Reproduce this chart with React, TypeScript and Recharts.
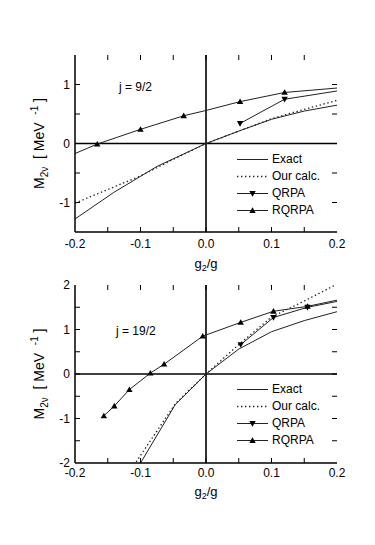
import { LineChart, Line, XAxis, YAxis, ReferenceLine, Legend } from 'recharts';

const FONT = '"Liberation Sans", Arial, Helvetica, sans-serif';

type Pt = { x: number; y: number; m?: boolean };

const xTicks = [-0.2, -0.15, -0.1, -0.05, 0, 0.05, 0.1, 0.15, 0.2];
const yTicksTop = [-1.5, -1, -0.5, 0, 0.5, 1, 1.5];
const yTicksBottom = [-2, -1.5, -1, -0.5, 0, 0.5, 1, 1.5, 2];

const seriesNames = ['Exact', 'Our calc.', 'QRPA', 'RQRPA'];

// j = 9/2
const exact9: Pt[] = [
    { x: -0.2, y: -1.28 }, { x: -0.141, y: -0.83 }, { x: -0.075, y: -0.39 }, { x: 0, y: 0 },
    { x: 0.05, y: 0.21 }, { x: 0.1, y: 0.41 }, { x: 0.15, y: 0.55 }, { x: 0.2, y: 0.65 },
];
const our9: Pt[] = [
    { x: -0.2, y: -1.01 }, { x: -0.15, y: -0.78 }, { x: -0.1, y: -0.55 }, { x: -0.05, y: -0.27 }, { x: 0, y: 0 },
    { x: 0.05, y: 0.21 }, { x: 0.1, y: 0.42 }, { x: 0.15, y: 0.58 }, { x: 0.2, y: 0.73 },
];
const qrpa9: Pt[] = [
    { x: 0.052, y: 0.34, m: true }, { x: 0.12, y: 0.75, m: true }, { x: 0.2, y: 0.89 },
];
const rqrpa9: Pt[] = [
    { x: -0.2, y: -0.17 }, { x: -0.166, y: -0.01, m: true }, { x: -0.1, y: 0.24, m: true },
    { x: -0.034, y: 0.47, m: true }, { x: 0, y: 0.56 }, { x: 0.052, y: 0.71, m: true },
    { x: 0.12, y: 0.865, m: true }, { x: 0.2, y: 0.94 },
];

// j = 19/2
const exact19: Pt[] = [
    { x: -0.104, y: -2.1 }, { x: -0.047, y: -0.69 }, { x: 0, y: 0 },
    { x: 0.05, y: 0.56 }, { x: 0.1, y: 0.95 }, { x: 0.15, y: 1.2 }, { x: 0.2, y: 1.4 },
];
const our19: Pt[] = [
    { x: -0.11, y: -2.05 }, { x: -0.047, y: -0.67 }, { x: 0, y: 0 },
    { x: 0.05, y: 0.66 }, { x: 0.1, y: 1.28 }, { x: 0.15, y: 1.64 }, { x: 0.2, y: 2.02 },
];
const qrpa19: Pt[] = [
    { x: 0.053, y: 0.66, m: true }, { x: 0.103, y: 1.27, m: true }, { x: 0.155, y: 1.5, m: true }, { x: 0.2, y: 1.63 },
];
const rqrpa19: Pt[] = [
    { x: -0.156, y: -0.94, m: true }, { x: -0.14, y: -0.72, m: true }, { x: -0.117, y: -0.35, m: true },
    { x: -0.085, y: 0.02, m: true }, { x: -0.064, y: 0.22, m: true }, { x: -0.005, y: 0.85, m: true },
    { x: 0.053, y: 1.16, m: true }, { x: 0.103, y: 1.41, m: true }, { x: 0.155, y: 1.52, m: true }, { x: 0.2, y: 1.66 },
];

const lineStyles = [
    { dash: undefined, marker: null, width: 1 },
    { dash: '1.4 2.6', marker: null, width: 1.3 },
    { dash: undefined, marker: 'down', width: 1 },
    { dash: undefined, marker: 'up', width: 1 },
];

const PLOT_W = 262;
const TICK_PX = 5;

function triangle(cx: number, cy: number, dir: string | null, key: any) {
    if (!dir) return <g key={key} />;
    const s = 3.2;
    const d = dir === 'up'
        ? `M${cx - s},${cy + 2.4}L${cx + s},${cy + 2.4}L${cx},${cy - 3.2}Z`
        : `M${cx - s},${cy - 2.4}L${cx + s},${cy - 2.4}L${cx},${cy + 3.2}Z`;
    return <path key={key} d={d} fill="#000" />;
}

const fmtX = (v: number) => (Math.abs(v * 10 - Math.round(v * 10)) < 1e-6 ? v.toFixed(1) : '');
const fmtY = (v: number) => (Number.isInteger(v) ? String(v) : '');

function LegendBox() {
    return (
        <div style={{ fontFamily: FONT, fontSize: 12, color: '#000' }}>
            {seriesNames.map((name, i) => (
                <div key={name} style={{ height: 17, display: 'flex', alignItems: 'center' }}>
                    <svg width={33} height={17} style={{ display: 'block' }}>
                        <line x1={1} x2={32} y1={8.5} y2={8.5} stroke="#222" strokeWidth={lineStyles[i].width}
                            strokeDasharray={lineStyles[i].dash} />
                        {triangle(16.5, 8.5, lineStyles[i].marker, 'm')}
                    </svg>
                    <span style={{ marginLeft: 3 }}>{name}</span>
                </div>
            ))}
        </div>
    );
}

type PanelProps = {
    top: number;
    height: number;
    plotH: number;
    margin: { top: number; right: number; bottom: number; left: number };
    xAxisHeight: number;
    xTickGap: number;
    xTitleGap: number;
    yDomain: [number, number];
    yTicks: number[];
    series: Pt[][];
    tag: string;
    tagPos: { left: number; top: number };
    legendTop: number;
};

function Panel(p: PanelProps) {
    const axisLine = { stroke: '#000', strokeWidth: 1.5 };
    const tickFont = { fill: '#000', fontSize: 12, fontFamily: FONT };
    const [y0, y1] = p.yDomain;
    // inward tick marks on all four sides, length converted from pixels to data units
    const dx = (TICK_PX * 0.4) / PLOT_W;
    const dy = (TICK_PX * (y1 - y0)) / p.plotH;
    const innerX = xTicks.slice(1, -1);
    const innerY = p.yTicks.slice(1, -1);

    return (
        <div style={{ position: 'absolute', left: 0, top: p.top, width: 375, height: p.height }}>
            <LineChart width={375} height={p.height} margin={p.margin}>
                <XAxis dataKey="x" type="number" domain={[-0.2, 0.2]} ticks={xTicks} allowDataOverflow
                    tickSize={0} tickMargin={p.xTickGap} height={p.xAxisHeight} axisLine={axisLine}
                    tickLine={false} tick={tickFont} tickFormatter={fmtX} interval={0}
                    label={{
                        content: (lp: any) => {
                            const vb = lp.viewBox;
                            return (
                                <text x={vb.x + vb.width / 2} y={vb.y + p.xTitleGap} textAnchor="middle"
                                    fontFamily={FONT} fontSize={13} fill="#000">
                                    g<tspan fontSize={9} dy={3}>2</tspan><tspan dy={-3}>/g</tspan>
                                </text>
                            );
                        },
                    }} />
                <XAxis xAxisId="t" orientation="top" type="number" domain={[-0.2, 0.2]} allowDataOverflow
                    height={0} axisLine={axisLine} tickLine={false} tick={false} />
                <YAxis type="number" domain={p.yDomain} ticks={p.yTicks} allowDataOverflow width={60}
                    tickSize={0} tickMargin={5} axisLine={axisLine} tickLine={false}
                    tick={tickFont} tickFormatter={fmtY} interval={0}
                    label={{
                        content: (lp: any) => {
                            const vb = lp.viewBox;
                            const cx = 44;
                            const cy = vb.y + vb.height / 2;
                            return (
                                <text transform={`rotate(-90 ${cx} ${cy})`} x={cx} y={cy} textAnchor="middle"
                                    fontFamily={FONT} fontSize={14} fill="#000" style={{ whiteSpace: 'pre' }}>
                                    M<tspan fontSize={10} dy={4}>2ν</tspan><tspan dy={-4}>  [ MeV  </tspan>
                                    <tspan fontSize={10} dy={-6}>-1</tspan><tspan dy={6}> ]</tspan>
                                </text>
                            );
                        },
                    }} />
                <YAxis yAxisId="r" orientation="right" type="number" domain={p.yDomain} allowDataOverflow
                    width={0} axisLine={axisLine} tickLine={false} tick={false} />
                {innerX.map((t) => (
                    <ReferenceLine key={`xb${t}`} segment={[{ x: t, y: y0 }, { x: t, y: y0 + dy }]}
                        stroke="#000" strokeWidth={1} />
                ))}
                {innerX.map((t) => (
                    <ReferenceLine key={`xt${t}`} segment={[{ x: t, y: y1 }, { x: t, y: y1 - dy }]}
                        stroke="#000" strokeWidth={1} />
                ))}
                {innerY.map((t) => (
                    <ReferenceLine key={`yl${t}`} segment={[{ x: -0.2, y: t }, { x: -0.2 + dx, y: t }]}
                        stroke="#000" strokeWidth={1} />
                ))}
                {innerY.map((t) => (
                    <ReferenceLine key={`yr${t}`} segment={[{ x: 0.2, y: t }, { x: 0.2 - dx, y: t }]}
                        stroke="#000" strokeWidth={1} />
                ))}
                <ReferenceLine x={0} stroke="#000" strokeWidth={1.6} />
                <ReferenceLine y={0} stroke="#000" strokeWidth={1.6} />
                {p.series.map((data, i) => (
                    <Line key={seriesNames[i]} name={seriesNames[i]} data={data} dataKey="y" type="linear"
                        stroke="#222" strokeWidth={lineStyles[i].width} strokeDasharray={lineStyles[i].dash}
                        isAnimationActive={false} activeDot={false}
                        dot={(dp: any) => triangle(dp.cx, dp.cy, dp.payload && dp.payload.m ? lineStyles[i].marker : null,
                            `${seriesNames[i]}-${dp.index}`)} />
                ))}
                <Legend layout="vertical" align="center" verticalAlign="middle"
                    wrapperStyle={{ position: 'absolute', left: 236, top: p.legendTop, width: 110, height: 68 }}
                    content={() => <LegendBox />} />
            </LineChart>
            <div style={{
                position: 'absolute', left: p.tagPos.left, top: p.tagPos.top, fontFamily: FONT,
                fontSize: 12, lineHeight: '12px', color: '#000', whiteSpace: 'pre',
            }}>
                {p.tag}
            </div>
        </div>
    );
}

export default function App() {
    return (
        <div style={{ position: 'absolute', left: 0, top: 0, width: 375, height: 545, background: '#fff' }}>
            <Panel top={0} height={278} plotH={177} margin={{ top: 55, right: 38, bottom: 8, left: 15 }}
                xAxisHeight={38} xTickGap={7} xTitleGap={36} yDomain={[-1.5, 1.5]} yTicks={yTicksTop}
                series={[exact9, our9, qrpa9, rqrpa9]} tag="j = 9/2" tagPos={{ left: 119, top: 81 }}
                legendTop={150.5} />
            <Panel top={278} height={267} plotH={178} margin={{ top: 7, right: 38, bottom: 42, left: 15 }}
                xAxisHeight={40} xTickGap={5} xTitleGap={33} yDomain={[-2, 2]} yTicks={yTicksBottom}
                series={[exact19, our19, qrpa19, rqrpa19]} tag="j = 19/2" tagPos={{ left: 116, top: 47 }}
                legendTop={102.5} />
        </div>
    );
}
